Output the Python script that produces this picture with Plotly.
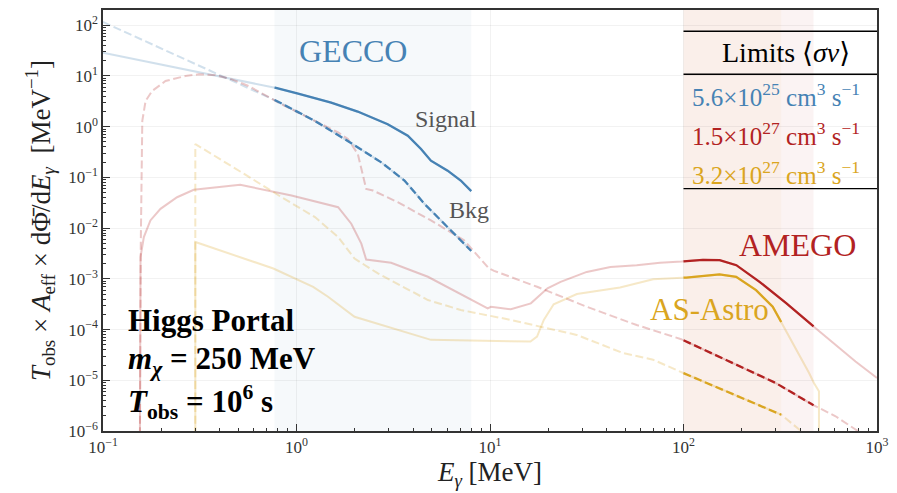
import numpy as np
import plotly.graph_objects as go

SERIF = "Liberation Serif, DejaVu Serif, serif"

# ---------------- photon spectra (MeV, counts per MeV) ----------------
# GECCO
gecco_sig_E = [0.1, 0.774, 1.02, 1.51, 2.07, 2.96, 3.76, 4.40, 4.95, 6.04, 7.06, 8.0]
gecco_sig_F = [28.6, 5.87, 4.48, 2.99, 1.99, 1.12, 0.662, 0.363, 0.214, 0.136, 0.0867, 0.0537]
gecco_bkg_E = [0.1, 0.789, 1.245, 1.774, 2.742, 3.614, 4.581, 5.585, 6.546, 8.0]
gecco_bkg_F = [116.0, 3.22, 1.30, 0.570, 0.198, 0.0867, 0.0302, 0.0142, 0.00778, 0.00355]

# AMEGO
amego_sig_E = [0.1549, 0.1563, 0.1626, 0.1758, 0.1982, 0.2415, 0.2944, 0.5117, 0.565, 0.942,
               1.641, 1.919, 2.163, 2.291, 3.083, 4.775, 9.727, 10.12, 12.82, 16.26,
               19.82, 23.17, 31.62, 41.88, 57.28, 75.68, 97.7, 126.0, 153.8, 187.5,
               247.2, 340.4, 466.7, 610.9, 774.5, 1000.0]
amego_sig_F = [1e-7, 2.69e-3, 6.68e-3, 0.0142, 0.0240, 0.0407, 0.0569, 0.0713, 0.0661, 0.0440,
               0.0259, 0.0122, 4.95e-3, 2.40e-3, 2.07e-3, 1.10e-3, 2.62e-4, 2.82e-4, 2.51e-4, 3.29e-4,
               6.49e-4, 8.7e-4, 1.37e-3, 1.72e-3, 1.86e-3, 2.07e-3, 2.19e-3, 2.37e-3, 2.33e-3, 1.86e-3,
               8.73e-4, 3.29e-4, 1.18e-4, 4.99e-5, 2.35e-5, 1.11e-5]
amego_bkg_E = [0.1549, 0.1567, 0.1596, 0.1660, 0.1795, 0.2104, 0.2667, 0.3119, 0.3802, 0.4634,
               0.5649, 0.8375, 1.245, 1.641, 1.845, 2.075, 2.291, 2.483, 3.334, 4.955,
               7.345, 9.886, 10.50, 17.50, 31.62, 57.28, 97.27, 166.0, 299.9, 463.4,
               610.9, 774.5, 1000.0]
amego_bkg_F = [1e-7, 4.25e-3, 1.30, 3.22, 5.06, 7.96, 9.98, 10.8, 10.4, 8.59,
               6.35, 2.77, 1.30, 0.769, 0.570, 0.289, 0.0594, 0.0551, 0.0325, 0.0142,
               5.75e-3, 1.60e-3, 1.44e-3, 6.97e-4, 2.82e-4, 1.23e-4, 6.46e-5, 2.54e-5, 8.83e-6, 3.32e-6,
               1.95e-6, 1.07e-6, 5.75e-7]

# AS-Astrogam
astro_sig_E = [0.3, 0.3, 0.759, 1.219, 1.455, 1.995, 4.955, 16.18, 17.50, 18.97,
               21.33, 28.12, 46.99, 69.66, 103.5, 153.5, 187.1, 237.1, 289.1, 319.2,
               331.9, 445.7, 472.1, 501.2, 501.2]
astro_sig_F = [1e-7, 5.33e-3, 1.60e-3, 6.97e-4, 4.44e-4, 1.79e-4, 6.27e-5, 5.79e-5, 7.28e-5, 1.55e-4,
               3.16e-4, 5.01e-4, 6.78e-4, 9.86e-4, 1.06e-3, 1.22e-3, 1.10e-3, 6.0e-4, 2.82e-4, 1.43e-4,
               1.06e-4, 1.39e-5, 8.85e-6, 6.05e-6, 1e-7]
astro_bkg_E = [0.3, 0.3, 0.565, 0.8375, 1.245, 1.641, 1.995, 2.636, 4.775, 7.063,
               12.3, 28.05, 48.75, 69.66, 99.77, 319.2, 396.3, 501.0]
astro_bkg_F = [1e-7, 0.455, 0.1038, 0.0407, 0.0165, 6.68e-3, 2.51e-3, 1.28e-3, 3.82e-4, 2.43e-4,
               1.60e-4, 7.85e-5, 3.43e-5, 2.54e-5, 1.39e-5, 2.11e-6, 1.07e-6, 5.6e-7]

# energy windows of each telescope (MeV)
telescopes = ["GECCO", "AMEGO", "AS-Astro"]
window_lo = [0.77, 100.0, 100.0]
window_hi = [8.0, 470.0, 320.0]
rgb = [(70, 130, 180), (178, 34, 34), (218, 165, 32)]
band_alpha = [0.05, 0.055, 0.04]

# cross-section limits shown in the table
limit_mant = ["5.6", "1.5", "3.2"]
limit_exp = ["25", "27", "27"]

x_tick_vals = [0.1, 1, 10, 100, 1000]
x_tick_text = ["10<sup>−1</sup>", "10<sup>0</sup>", "10<sup>1</sup>", "10<sup>2</sup>", "10<sup>3</sup>"]
y_tick_vals = [1e-6, 1e-5, 1e-4, 1e-3, 1e-2, 1e-1, 1, 10, 100]
y_tick_text = ["10<sup>−6</sup>", "10<sup>−5</sup>", "10<sup>−4</sup>", "10<sup>−3</sup>",
               "10<sup>−2</sup>", "10<sup>−1</sup>", "10<sup>0</sup>", "10<sup>1</sup>", "10<sup>2</sup>"]

X_RANGE = [-1, 3]
Y_RANGE = [-6, np.log10(200)]


def rgba(c, a):
    return f"rgba({c[0]},{c[1]},{c[2]},{a})"


def window_part(E, F, lo, hi):
    """Piece of a spectrum lying inside [lo, hi], interpolated in log-log."""
    lx, ly = np.log10(E), np.log10(F)
    xlo, xhi = np.log10(lo), np.log10(hi)
    inside = (lx > xlo) & (lx < xhi)
    xs = np.concatenate([[xlo], lx[inside], [xhi]])
    ys = np.interp(xs, lx, ly)
    return 10 ** xs, 10 ** ys


DASH = "8px,3.6px"
spectra = [
    (0, gecco_sig_E, gecco_sig_F, "solid"),
    (0, gecco_bkg_E, gecco_bkg_F, DASH),
    (1, amego_sig_E, amego_sig_F, "solid"),
    (1, amego_bkg_E, amego_bkg_F, DASH),
    (2, astro_sig_E, astro_sig_F, "solid"),
    (2, astro_bkg_E, astro_bkg_F, DASH),
]

fig = go.Figure()

# full spectra, faded
for i, E, F, dash in spectra:
    fig.add_trace(go.Scatter(x=E, y=F, mode="lines", hoverinfo="skip", showlegend=False,
                             line=dict(color=rgba(rgb[i], 0.25), width=2, dash=dash)))
# portion inside each telescope's window, bold
for i, E, F, dash in spectra:
    xw, yw = window_part(E, F, window_lo[i], window_hi[i])
    fig.add_trace(go.Scatter(x=xw, y=yw, mode="lines", hoverinfo="skip", showlegend=False,
                             line=dict(color=rgba(rgb[i], 1), width=2.3, dash=dash)))

# shaded energy windows
for i in range(3):
    fig.add_vrect(x0=window_lo[i], x1=window_hi[i], fillcolor=rgba(rgb[i], band_alpha[i]),
                  line_width=0, layer="below")

# table of limits
for yp in [0.9497, 0.8473, 0.5757]:
    fig.add_shape(type="line", xref="x", yref="paper", x0=100, x1=1000, y0=yp, y1=yp,
                  line=dict(color="black", width=1.4))
fig.add_annotation(xref="paper", yref="paper", x=0.882, y=0.898, showarrow=False,
                   xanchor="center", yanchor="middle",
                   text="Limits ⟨<i>σv</i>⟩", font=dict(family=SERIF, size=28, color="black"))
row_y = [0.798, 0.705, 0.612]
for i in range(3):
    fig.add_annotation(xref="paper", yref="paper", x=0.869, y=row_y[i], showarrow=False,
                       xanchor="center", yanchor="middle",
                       text=f"{limit_mant[i]}×10<sup>{limit_exp[i]}</sup> cm<sup>3</sup> s<sup>−1</sup>",
                       font=dict(family=SERIF, size=25, color=rgba(rgb[i], 1)))


# labels
def label(text, lx, ly, size, color, xanchor="left"):
    fig.add_annotation(x=lx, y=ly, xref="x", yref="y", text=text, showarrow=False,
                       xanchor=xanchor, yanchor="middle",
                       font=dict(family=SERIF, size=size, color=color))


label("GECCO", 0.0, 1.50, 32, rgba(rgb[0], 1))
label("Signal", 0.600, 0.16, 24, "#555555")
label("Bkg", 0.780, -1.64, 24, "#555555")
label("AMEGO", 2.900, -2.33, 32, rgba(rgb[1], 1), xanchor="right")
label("AS-Astro", 1.819, -3.60, 31, rgba(rgb[2], 1))
label("<b>Higgs Portal</b>", -0.881, -3.82, 31, "black")
label("<b><i>m</i><sub><i>χ</i></sub> = 250 MeV</b>", -0.881, -4.62, 31, "black")
label("<b><i>T</i><sub>obs</sub> = 10<sup>6</sup> s</b>", -0.881, -5.43, 31, "black")

minor_x = [k * 10.0 ** d for d in range(-1, 3) for k in range(2, 10)]
minor_y = [k * 10.0 ** d for d in range(-6, 3) for k in range(2, 10) if k * 10.0 ** d <= 200]

axis_common = dict(
    type="log", showline=True, linecolor="#333333", linewidth=1.5, mirror=True,
    showgrid=True, gridcolor="rgba(0,0,0,0.05)", gridwidth=1, zeroline=False,
    ticks="inside", ticklen=7, tickwidth=1.2, tickcolor="#333333", tickmode="array",
    tickfont=dict(family=SERIF, size=17, color="#333333"),
)

fig.update_xaxes(**axis_common, range=X_RANGE, tickvals=x_tick_vals, ticktext=x_tick_text,
                 minor=dict(tickmode="array", tickvals=minor_x, ticks="inside", ticklen=3.5,
                            tickwidth=1, tickcolor="#333333", showgrid=False),
                 title=dict(text="<i>E</i><sub><i>γ</i></sub> [MeV]", standoff=6,
                            font=dict(family=SERIF, size=27, color="#222222")))
fig.update_yaxes(**axis_common, range=Y_RANGE, tickvals=y_tick_vals, ticktext=y_tick_text,
                 minor=dict(tickmode="array", tickvals=minor_y, ticks="inside", ticklen=3.5,
                            tickwidth=1, tickcolor="#333333", showgrid=False),
                 title=dict(text="<i>T</i><sub>obs</sub> × <i>A</i><sub>eff</sub> × dΦ̄/d<i>E</i><sub><i>γ</i></sub>  [MeV<sup>−1</sup>]",
                            standoff=10, font=dict(family=SERIF, size=27, color="#222222")))

fig.update_layout(width=897, height=493, margin=dict(l=103, r=16, t=8, b=62),
                  paper_bgcolor="white", plot_bgcolor="white", showlegend=False)

fig.write_html("out.html")
